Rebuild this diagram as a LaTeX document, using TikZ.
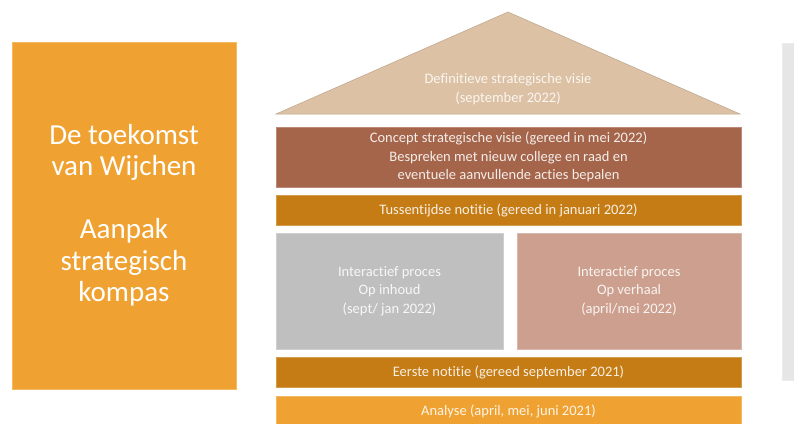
\documentclass[tikz,border=0pt]{standalone}
\usepackage{fontspec}
\setmainfont{Carlito}[Ligatures=NoCommon]
\usetikzlibrary{positioning}

\definecolor{kompas}{HTML}{EFA231}
\definecolor{roof}{HTML}{DCC1A4}
\definecolor{concept}{HTML}{A5654B}
\definecolor{notitie}{HTML}{C57C14}
\definecolor{inhoud}{HTML}{BFBFBF}
\definecolor{verhaal}{HTML}{CC9F8E}
\definecolor{side}{HTML}{E6E6E6}

\begin{document}
\begin{tikzpicture}
    [x=1pt, y=-1pt,
     every node/.style={inner sep=0pt, outer sep=0pt, align=center},
     block/.style={anchor=north west, draw=#1!75!white, fill=#1, line width=0.5pt,
                   text=white!88!#1, font=\fontsize{14.5}{18.5}\selectfont},
     title/.style={text=white, font=\fontsize{29}{31.5}\selectfont}]

    \useasboundingbox (0,0) rectangle (794,423);

    % left title block and grey side strip
    \node (left) [block=kompas, minimum width=224pt, minimum height=347pt] at (12,42) {};
    \node[title] at (left.center) {De toekomst\\van Wijchen\\[31.5pt]Aanpak\\strategisch\\kompas};
    \node (side) [block=side, minimum width=20pt, minimum height=337pt] at (782,43) {};

    % roof
    \coordinate (roof-l) at (276,114);
    \coordinate (roof-t) at (508,12);
    \coordinate (roof-r) at (740,114);
    \draw[fill=roof, draw=roof!85!black, line width=0.5pt] (roof-l) -- (roof-t) -- (roof-r) -- cycle;
    \node[text=white!85!roof, font=\fontsize{14.5}{18.5}\selectfont] at (508,89) {Definitieve strategische visie\\(september 2022)};

    % floors
    \node (concept) [block=concept, minimum width=465pt, minimum height=60pt] at (276,127)
      {Concept strategische visie (gereed in mei 2022)\\Bespreken met nieuw college en raad en\\eventuele aanvullende acties bepalen};
    \node (tussen) [block=notitie, minimum width=465pt, minimum height=30pt] at (276,195)
      {Tussentijdse notitie (gereed in januari 2022)};
    \node (inhoud) [block=inhoud, minimum width=227pt, minimum height=116pt] at (276,233)
      {Interactief proces\\Op inhoud\\(sept/ jan 2022)};
    \node (verhaal) [block=verhaal, minimum width=224pt, minimum height=116pt] at (517,233)
      {Interactief proces\\Op verhaal\\(april/mei 2022)};
    \node (eerste) [block=notitie, minimum width=465pt, minimum height=30pt] at (276,357)
      {Eerste notitie (gereed september 2021)};
    \node (analyse) [block=kompas, minimum width=465pt, minimum height=30pt] at (276,396)
      {Analyse (april, mei, juni 2021)};
\end{tikzpicture}
\end{document}
